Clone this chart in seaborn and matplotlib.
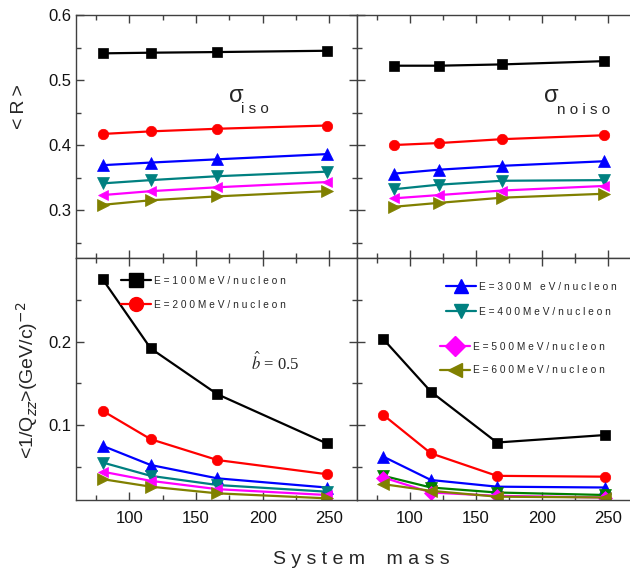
import matplotlib
matplotlib.use("Agg")
import matplotlib.pyplot as plt
import seaborn as sns
import numpy as np
import pandas as pd
from matplotlib.lines import Line2D
from matplotlib.ticker import FixedLocator, MultipleLocator

# ---------------- data ----------------
mass = [80, 116, 166, 248]
mass_noiso = [88, 122, 170, 247]

energy_labels = ["E=100MeV/nucleon", "E=200MeV/nucleon", "E=300M eV/nucleon",
                 "E=400MeV/nucleon", "E=500MeV/nucleon", "E=600MeV/nucleon"]

r_iso = [
    [0.541, 0.542, 0.543, 0.545],
    [0.417, 0.421, 0.425, 0.430],
    [0.369, 0.373, 0.378, 0.386],
    [0.341, 0.346, 0.352, 0.359],
    [0.323, 0.329, 0.335, 0.343],
    [0.308, 0.315, 0.321, 0.329],
]
r_noiso = [
    [0.522, 0.522, 0.524, 0.529],
    [0.400, 0.403, 0.409, 0.415],
    [0.356, 0.362, 0.368, 0.375],
    [0.332, 0.339, 0.345, 0.346],
    [0.318, 0.323, 0.330, 0.337],
    [0.305, 0.311, 0.319, 0.325],
]
q_iso = [
    [0.275, 0.192, 0.137, 0.078],
    [0.117, 0.083, 0.058, 0.041],
    [0.075, 0.052, 0.036, 0.025],
    [0.055, 0.039, 0.028, 0.020],
    [0.044, 0.033, 0.023, 0.016],
    [0.035, 0.026, 0.018, 0.012],
]
q_noiso = [
    [0.203, 0.140, 0.079, 0.088],
    [0.112, 0.066, 0.039, 0.038],
    [0.062, 0.034, 0.026, 0.025],
    [0.039, 0.025, 0.019, 0.016],
    [0.037, 0.019, 0.015, 0.013],
    [0.029, 0.021, 0.014, 0.013],
]

colors = ["#000000", "#ff0000", "#0000ff", "#008080", "#ff00ff", "#808000"]
colors_br = ["#000000", "#ff0000", "#0000ff", "#008000", "#ff00ff", "#808000"]
markers_main = ["s", "o", "^", "v", "<", ">"]
markers_br = ["s", "o", "^", "v", "D", "<"]
markers_leg = ["s", "o", "^", "v", "D", "<"]
msizes = [6.5, 7.5, 8, 8, 7.5, 8]

# ---------------- style ----------------
sns.set_theme(style="ticks")
plt.rcParams["font.family"] = ["Liberation Sans Narrow", "Liberation Sans", "DejaVu Sans"]
plt.rcParams["axes.edgecolor"] = "#404040"
plt.rcParams["axes.linewidth"] = 1.0

W, H = 630, 579
fig = plt.figure(figsize=(W / 100, H / 100), dpi=100)


def fx(px):
    return px / W


def fy(py):
    return 1 - py / H


ax_tl = fig.add_axes([fx(76), fy(258), fx(281), (258 - 15) / H])
ax_tr = fig.add_axes([fx(357), fy(258), fx(283), (258 - 15) / H])
ax_bl = fig.add_axes([fx(76), fy(500), fx(281), (500 - 258) / H])
ax_br = fig.add_axes([fx(357), fy(500), fx(283), (500 - 258) / H])


def draw(ax, xs, data, cols, marks):
    for vals, c, m, ms in zip(data, cols, marks, msizes):
        sns.lineplot(x=xs, y=vals, ax=ax, color=c, marker=m, markersize=ms,
                     markeredgecolor=c, markeredgewidth=0.5, linewidth=1.6,
                     legend=False, errorbar=None)


draw(ax_tl, mass, r_iso, colors, markers_main)
draw(ax_tr, mass_noiso, r_noiso, colors, markers_main)
draw(ax_bl, mass, q_iso, colors, markers_main)
draw(ax_br, mass, q_noiso, colors_br, markers_br)

for ax, left in [(ax_tl, True), (ax_tr, False), (ax_bl, True), (ax_br, False)]:
    ax.set_xlim(60, 270.8 if left else 274.4)
    ax.xaxis.set_major_locator(MultipleLocator(50))
    ax.xaxis.set_minor_locator(MultipleLocator(25))
    ax.tick_params(which="both", direction="in", top=True, right=True,
                   color="#404040", labelsize=12, labelcolor="#111111")
    ax.tick_params(which="major", length=6, width=1.0)
    ax.tick_params(which="minor", length=3.5, width=1.0)
    ax.tick_params(axis="x", pad=8)
    ax.set_xlabel("")
    ax.set_ylabel("")
    if not left:
        ax.tick_params(labelleft=False)

for ax in (ax_tl, ax_tr):
    ax.set_ylim(0.2262, 0.6)
    ax.yaxis.set_major_locator(FixedLocator([0.3, 0.4, 0.5, 0.6]))
    ax.yaxis.set_minor_locator(FixedLocator([0.25, 0.35, 0.45, 0.55]))
    ax.tick_params(labelbottom=False)

for ax in (ax_bl, ax_br):
    ax.set_ylim(0.0100, 0.3005)
    ax.yaxis.set_major_locator(FixedLocator([0.1, 0.2]))
    ax.yaxis.set_minor_locator(FixedLocator([0.05, 0.15, 0.25]))

ax_tl.yaxis.set_major_formatter(matplotlib.ticker.FormatStrFormatter("%.1f"))
ax_bl.yaxis.set_major_formatter(matplotlib.ticker.FormatStrFormatter("%.1f"))


def spaced(s):
    return " ".join(s)


# ---------------- legends ----------------
def handles(idx):
    hs = []
    for i in idx:
        hs.append(Line2D([0], [0], color=colors[i], marker=markers_leg[i],
                         markersize=10, markeredgecolor=colors[i], linewidth=1.6))
    return hs


leg_font = {"family": ["Liberation Sans", "DejaVu Sans"], "size": 7.3}

leg1 = fig.legend(handles(range(0, 2)), [spaced(energy_labels[i]) for i in range(0, 2)],
                  loc="upper left", bbox_to_anchor=(fx(121), fy(276)),
                  frameon=False, borderpad=0, borderaxespad=0, handlelength=3.0,
                  handletextpad=0.3, labelspacing=1.35, prop=leg_font)
leg2 = fig.legend(handles(range(2, 4)), [spaced(energy_labels[i]) for i in range(2, 4)],
                  loc="upper left", bbox_to_anchor=(fx(446), fy(282)),
                  frameon=False, borderpad=0, borderaxespad=0, handlelength=3.0,
                  handletextpad=0.3, labelspacing=1.45, prop=leg_font)
leg3 = fig.legend(handles(range(4, 6)), [spaced(energy_labels[i]) for i in range(4, 6)],
                  loc="upper left", bbox_to_anchor=(fx(440), fy(342)),
                  frameon=False, borderpad=0, borderaxespad=0, handlelength=3.0,
                  handletextpad=0.3, labelspacing=1.3, prop=leg_font)

# ---------------- annotations ----------------
sans = ["Liberation Sans", "DejaVu Sans"]
fig.text(fx(229), fy(96), "σ", fontsize=17, family=sans, va="center", ha="left")
fig.text(fx(241), fy(109), spaced("iso"), fontsize=11, family=sans, va="center", ha="left")
fig.text(fx(544), fy(96), "σ", fontsize=17, family=sans, va="center", ha="left")
fig.text(fx(557), fy(110), spaced("noiso"), fontsize=11, family=sans, va="center", ha="left")

fig.text(fx(251), fy(363), r"$\hat{b}$ = 0.5", fontsize=12, family=["Liberation Serif"],
         math_fontfamily="stix", va="center", ha="left")

fig.text(fx(20), fy(107), "<\u2009R\u2009>", fontsize=14, family=sans, rotation=90,
         va="center", ha="center")
fig.text(fx(27), fy(380), r"<1/Q$_{zz}$>(GeV/c)$^{-2}$", fontsize=14, family=sans,
         rotation=90, va="center", ha="center")

fig.text(fx(361), fy(560), spaced("System mass").replace("m   m", "m    m"), fontsize=14,
         family=sans, va="center", ha="center")

fig.savefig("out.png", dpi=100)
